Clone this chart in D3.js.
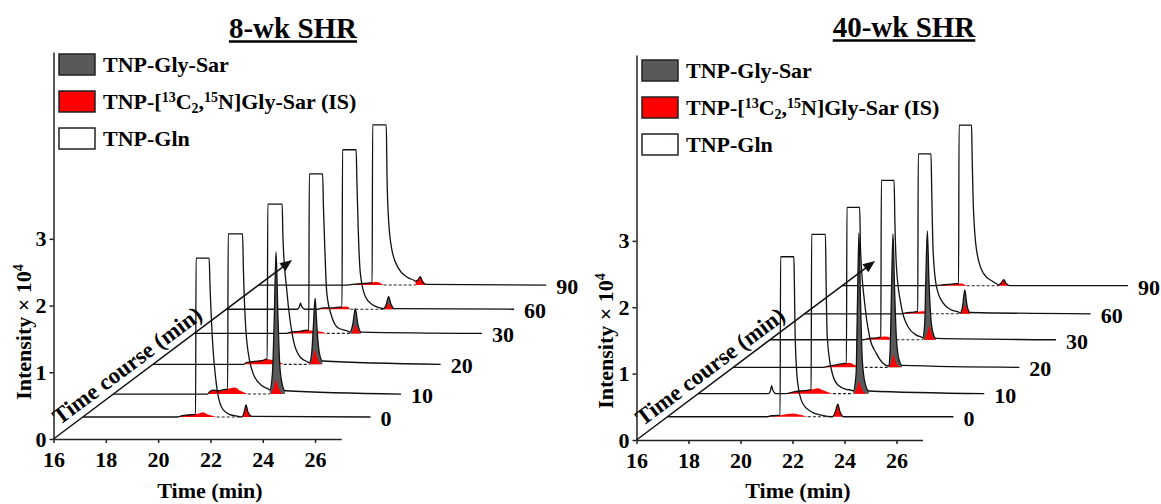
<!DOCTYPE html>
<html lang="en">
<head>
<meta charset="UTF-8">
<title>TNP-Gly-Sar chromatograms, 8-wk and 40-wk SHR</title>
<style>
  body { margin: 0; background: #fff; }
  svg text { font-family: "Liberation Serif", "Times New Roman", serif; font-weight: bold; fill: #000; }
  .trace { fill: none; stroke: #111; stroke-width: 1.3px; }
  .dash { stroke: #222; stroke-width: 1.1px; stroke-dasharray: 3 2; }
  .axis path, .axis line { stroke: #222; stroke-width: 1.5px; }
  .axis text { font-size: 22px; font-family: "Liberation Serif", serif; }
</style>
</head>
<body>
<script src="https://cdn.jsdelivr.net/npm/d3@7"></script>
<script>
// ---- data (time in min, intensity x 10^4) ----
const runLabels = ["0", "10", "20", "30", "60", "90"];
const xTicks = [16, 18, 20, 22, 24, 26];
const yTicks = [0, 1, 2, 3];

// where each run sits along the "time course" axis (fraction of the arrow)
const depth8wk = [0.123, 0.251, 0.417, 0.590, 0.725, 0.860];
const depth40wk = [0.130, 0.259, 0.406, 0.560, 0.705, 0.862];

// 8-wk SHR
const minor8wk = [[], [], [], [], [[18.7, 0], [18.8, 0.05], [18.83, 0.09], [18.88, 0.04], [19.0, 0]], []];
const hump8wk = [
  [[19.6, 0], [19.8, 0.02], [20.0, 0.03], [20.3, 0.04], [20.5, 0.06], [20.6, 0.07], [20.75, 0.04], [20.95, 0.02], [21.12, 0]],
  [[19.59, 0], [19.7, 0.04], [19.82, 0.06], [20.0, 0.05], [20.3, 0.07], [20.5, 0.09], [20.65, 0.1], [20.85, 0.05], [21.03, 0.02], [21.15, 0]],
  [[19.46, 0], [19.6, 0.03], [19.8, 0.04], [20.0, 0.05], [20.2, 0.06], [20.35, 0.08], [20.6, 0.06], [20.85, 0.03], [21.0, 0]],
  [[19.54, 0], [19.7, 0.02], [20.0, 0.03], [20.3, 0.05], [20.5, 0.04], [20.8, 0.03], [21.07, 0]],
  [[19.47, 0], [19.7, 0.02], [20.0, 0.02], [20.3, 0.03], [20.6, 0.04], [20.74, 0]],
  [[19.4, 0], [19.6, 0.01], [19.9, 0.02], [20.2, 0.03], [20.5, 0.045], [20.65, 0.03], [20.78, 0]]
];
const gln8wk = [
  [[20.31, 0.04], [20.33, 2.38], [20.83, 2.38], [20.86, 2.0], [20.95, 1.2], [21.12, 0.45], [21.3, 0.15], [21.6, 0.04], [21.95, 0.01]],
  [[20.37, 0.07], [20.39, 2.4], [20.94, 2.4], [20.97, 1.9], [21.1, 0.8], [21.35, 0.3], [21.7, 0.12], [21.95, 0.07]],
  [[20.37, 0.08], [20.39, 2.4], [20.94, 2.4], [20.97, 1.9], [21.12, 1.1], [21.37, 0.36], [21.63, 0.11], [21.94, 0.03]],
  [[20.38, 0.05], [20.4, 2.39], [20.91, 2.39], [20.94, 1.9], [21.0, 1.2], [21.07, 0.6], [21.26, 0.25], [21.51, 0.08], [21.83, 0.04]],
  [[20.42, 0.03], [20.44, 2.39], [20.96, 2.39], [20.99, 1.9], [21.04, 1.2], [21.12, 0.54], [21.31, 0.19], [21.57, 0.07], [21.88, 0.02]],
  [[20.34, 0.035], [20.36, 2.4], [20.88, 2.4], [20.91, 1.62], [20.97, 0.97], [21.1, 0.52], [21.35, 0.25], [21.67, 0.12], [21.95, 0.07]]
];
const glySar8wk = [
  [],
  [[21.98, 0.06], [22.08, 0.3], [22.15, 1.1], [22.22, 2.13], [22.29, 1.2], [22.36, 0.45], [22.45, 0.16], [22.56, 0.05]],
  [[21.98, 0.02], [22.07, 0.17], [22.13, 0.55], [22.2, 0.99], [22.27, 0.55], [22.35, 0.2], [22.48, 0.05]],
  [[21.96, 0.02], [22.06, 0.13], [22.16, 0.37], [22.25, 0.15], [22.38, 0.02]],
  [[22.0, 0.01], [22.11, 0.07], [22.2, 0.19], [22.29, 0.08], [22.42, 0.01]],
  []
];
const is8wk = [
  [[22.08, 0], [22.17, 0.07], [22.24, 0.18], [22.31, 0.08], [22.47, 0.01]],
  [[22.02, 0], [22.13, 0.09], [22.22, 0.21], [22.31, 0.09], [22.48, 0]],
  [[22.01, 0], [22.11, 0.09], [22.19, 0.21], [22.28, 0.09], [22.45, 0]],
  [[22.0, 0], [22.09, 0.06], [22.16, 0.125], [22.25, 0.06], [22.37, 0]],
  [[22.04, 0], [22.13, 0.045], [22.2, 0.09], [22.28, 0.045], [22.39, 0]],
  [[22.0, 0.06], [22.1, 0.08], [22.18, 0.125], [22.26, 0.06], [22.4, 0.01]]
];
const dash8wk = [[21.12, 22.08], [21.15, 21.98], [21.0, 21.98], [21.07, 21.96], [20.74, 22.0], [20.78, 22.0]];

// 40-wk SHR
const minor40wk = [[], [[18.7, 0], [18.78, 0.05], [18.82, 0.12], [18.87, 0.05], [18.98, 0]], [], [], [], []];
const hump40wk = [
  [[19.85, 0], [20.0, 0.015], [20.3, 0.02], [20.6, 0.04], [20.85, 0.05], [21.1, 0.03], [21.4, 0]],
  [[19.39, 0], [19.6, 0.02], [19.9, 0.04], [20.2, 0.05], [20.45, 0.07], [20.6, 0.08], [20.8, 0.05], [21.0, 0.02], [21.18, 0]],
  [[19.45, 0], [19.7, 0.02], [20.0, 0.04], [20.3, 0.06], [20.47, 0.07], [20.65, 0.04], [20.86, 0]],
  [[19.57, 0], [19.8, 0.02], [20.1, 0.03], [20.3, 0.045], [20.47, 0.05], [20.65, 0.03], [20.86, 0]],
  [[19.66, 0], [19.9, 0.015], [20.2, 0.025], [20.45, 0.035], [20.65, 0.04], [20.85, 0]],
  [[19.5, 0], [19.8, 0.01], [20.1, 0.02], [20.4, 0.03], [20.6, 0.035], [20.79, 0]]
];
const gln40wk = [
  [[20.33, 0.02], [20.35, 2.41], [20.86, 2.41], [20.88, 2.0], [20.91, 1.2], [21.01, 0.5], [21.2, 0.2], [21.53, 0.075], [21.91, 0.025]],
  [[20.34, 0.06], [20.36, 2.4], [20.89, 2.4], [20.92, 1.6], [20.96, 0.86], [21.12, 0.36], [21.37, 0.13], [21.7, 0.065], [21.9, 0.05]],
  [[20.35, 0.06], [20.37, 2.41], [20.86, 2.41], [20.89, 1.8], [21.05, 0.97], [21.24, 0.46], [21.5, 0.21], [21.76, 0.06], [21.95, 0.02]],
  [[20.26, 0.045], [20.28, 2.4], [20.77, 2.4], [20.8, 1.8], [20.86, 1.1], [21.05, 0.5], [21.3, 0.2], [21.63, 0.07], [21.85, 0.035]],
  [[20.35, 0.035], [20.37, 2.41], [20.86, 2.41], [20.89, 1.8], [20.94, 0.96], [21.07, 0.41], [21.33, 0.16], [21.65, 0.057], [21.95, 0.02]],
  [[20.48, 0.03], [20.5, 2.42], [20.98, 2.42], [21.0, 2.0], [21.04, 1.29], [21.17, 0.54], [21.43, 0.19], [21.81, 0.06], [21.98, 0.02]]
];
const glySar40wk = [
  [],
  [[21.96, 0.04], [22.07, 0.3], [22.12, 1.3], [22.18, 2.42], [22.24, 1.4], [22.31, 0.5], [22.42, 0.15], [22.56, 0.04]],
  [[21.97, 0.02], [22.03, 0.25], [22.08, 1.1], [22.14, 2.01], [22.2, 1.2], [22.27, 0.45], [22.37, 0.12], [22.49, 0.03]],
  [[21.87, 0.03], [21.95, 0.25], [21.99, 0.9], [22.05, 1.64], [22.11, 0.9], [22.18, 0.35], [22.27, 0.1], [22.38, 0.02]],
  [[21.98, 0.01], [22.07, 0.1], [22.16, 0.36], [22.24, 0.14], [22.36, 0.02]],
  []
];
const is40wk = [
  [[22.34, 0], [22.46, 0.08], [22.55, 0.19], [22.63, 0.08], [22.78, 0]],
  [[21.99, 0], [22.1, 0.08], [22.19, 0.18], [22.28, 0.08], [22.46, 0]],
  [[21.98, 0], [22.08, 0.08], [22.16, 0.185], [22.25, 0.08], [22.43, 0]],
  [[21.92, 0], [22.04, 0.09], [22.13, 0.2], [22.21, 0.09], [22.36, 0]],
  [[22.0, 0], [22.09, 0.06], [22.17, 0.13], [22.25, 0.06], [22.37, 0]],
  [[22.02, 0.01], [22.12, 0.04], [22.22, 0.09], [22.3, 0.04], [22.45, 0]]
];
const dash40wk = [[21.4, 22.34], [21.18, 21.96], [20.86, 21.97], [20.86, 21.87], [20.85, 21.98], [20.79, 22.02]];

// legend entries: [text, shift] where shift 1 = superscript, -1 = subscript
const legendNames = [
  [["TNP-Gly-Sar", 0]],
  [["TNP-[", 0], ["13", 1], ["C", 0], ["2", -1], [",", 0], ["15", 1], ["N]Gly-Sar (IS)", 0]],
  [["TNP-Gln", 0]]
];
const legendFills = ["#595959", "#ff0000", "#ffffff"];

const GRAY = "#595959";
const RED = "#ff0000";

const svg = d3.select("body").append("svg")
  .attr("width", 1161)
  .attr("height", 504);

const panels = [
  { title: "8-wk SHR", titleX: 293, titleY: 38, left: 53.5, right: 341.2, base: 439, top: 52,
    depth: depth8wk, minor: minor8wk, hump: hump8wk, gln: gln8wk, gs: glySar8wk, is: is8wk, dash: dash8wk,
    legX: 59, legY: 54, yTitleX: 31, yTitleY: 332, xTitleX: 210 },
  { title: "40-wk SHR", titleX: 904, titleY: 37, left: 636.5, right: 922.5, base: 440, top: 55,
    depth: depth40wk, minor: minor40wk, hump: hump40wk, gln: gln40wk, gs: glySar40wk, is: is40wk, dash: dash40wk,
    legX: 642, legY: 60, yTitleX: 613, yTitleY: 341, xTitleX: 798 }
];

// arrow of the time-course axis
const arrowVec = [238.5, -179];

panels.forEach(drawPanel);

function drawPanel(p) {
  const g = svg.append("g");

  const x = d3.scaleLinear().domain([16, 27]).range([p.left, p.right]);
  const y = d3.scaleLinear().domain([0, 5.8]).range([p.base, p.top]);
  const dx = d3.scaleLinear().domain([0, 1]).range([0, arrowVec[0]]);
  const dy = d3.scaleLinear().domain([0, 1]).range([0, arrowVec[1]]);

  const line = d3.line().x(d => x(d[0])).y(d => y(d[1])).curve(d3.curveMonotoneX);
  const area = d3.area().x(d => x(d[0])).y0(y(0)).y1(d => y(d[1])).curve(d3.curveMonotoneX);

  // runs drawn back to front
  for (let i = runLabels.length - 1; i >= 0; i--) {
    const row = g.append("g")
      .attr("transform", `translate(${dx(p.depth[i])},${dy(p.depth[i])})`);

    row.append("path").datum(p.hump[i]).attr("d", area).attr("fill", RED);
    if (p.gs[i].length) {
      row.append("path").datum(p.gs[i]).attr("d", area).attr("fill", GRAY);
    }
    row.append("path").datum(p.is[i]).attr("d", area).attr("fill", RED);

    row.append("line")
      .attr("class", "dash")
      .attr("x1", x(p.dash[i][0])).attr("x2", x(p.dash[i][1]))
      .attr("y1", y(0)).attr("y2", y(0));

    const start = p.gln[i][0][0];
    const peak = p.gs[i].length ? p.gs[i] : p.is[i];
    const pts = [[16, 0]]
      .concat(p.minor[i])
      .concat(p.hump[i].filter(d => d[0] < start - 0.015))
      .concat(p.gln[i])
      .concat(peak)
      .concat([[27, 0]]);
    row.append("path").datum(pts).attr("class", "trace").attr("d", line);

    row.append("text")
      .attr("x", x(27) + 10)
      .attr("y", y(0) + 9)
      .style("font-size", "22px")
      .text(runLabels[i]);
  }

  // axes
  g.append("g")
    .attr("class", "axis")
    .attr("transform", `translate(0,${p.base})`)
    .call(d3.axisBottom(x).tickValues(xTicks).tickSize(4).tickSizeOuter(0).tickPadding(8));

  g.append("g")
    .attr("class", "axis")
    .attr("transform", `translate(${p.left},0)`)
    .call(d3.axisLeft(y).tickValues(yTicks).tickSize(4).tickSizeOuter(0).tickPadding(3).tickFormat(d3.format("d")));

  g.selectAll(".axis text").style("font-weight", "bold");

  // time course arrow
  const len = Math.hypot(arrowVec[0], arrowVec[1]);
  const u = [arrowVec[0] / len, arrowVec[1] / len];
  const n = [u[1], -u[0]];
  const ox = p.left, oy = p.base;
  const tip = [ox + arrowVec[0], oy + arrowVec[1]];
  g.append("line")
    .attr("x1", ox).attr("y1", oy)
    .attr("x2", tip[0] - u[0] * 8).attr("y2", tip[1] - u[1] * 8)
    .attr("stroke", "#111").attr("stroke-width", 1.5);
  g.append("path")
    .attr("d", d3.line()([
      tip,
      [tip[0] - u[0] * 12 + n[0] * 5, tip[1] - u[1] * 12 + n[1] * 5],
      [tip[0] - u[0] * 12 - n[0] * 5, tip[1] - u[1] * 12 - n[1] * 5]
    ]) + "Z")
    .attr("fill", "#111");

  const angle = Math.atan2(arrowVec[1], arrowVec[0]) * 180 / Math.PI;
  const cx = ox + u[0] * 103 + n[0] * 7;
  const cy = oy + u[1] * 103 + n[1] * 7;
  g.append("text")
    .attr("transform", `translate(${cx},${cy}) rotate(${angle})`)
    .attr("text-anchor", "middle")
    .style("font-size", "23px")
    .text("Time course (min)");

  // axis titles
  g.append("text")
    .attr("x", p.xTitleX).attr("y", 498)
    .attr("text-anchor", "middle")
    .style("font-size", "22px")
    .text("Time (min)");

  const yt = g.append("text")
    .attr("transform", `translate(${p.yTitleX},${p.yTitleY}) rotate(-90)`)
    .attr("text-anchor", "middle")
    .style("font-size", "22px");
  yt.append("tspan").text("Intensity \u00d7 10");
  yt.append("tspan").attr("dy", -8).style("font-size", "14px").text("4");

  // title with underline
  const title = g.append("text")
    .attr("x", p.titleX).attr("y", p.titleY)
    .attr("text-anchor", "middle")
    .style("font-size", "29px")
    .text(p.title);
  const tw = title.node().getComputedTextLength();
  g.append("line")
    .attr("x1", p.titleX - tw / 2).attr("x2", p.titleX + tw / 2)
    .attr("y1", p.titleY + 3.5).attr("y2", p.titleY + 3.5)
    .attr("stroke", "#000").attr("stroke-width", 2.4);

  // legend
  legendNames.forEach((parts, k) => {
    const yy = p.legY + k * 37;
    g.append("rect")
      .attr("x", p.legX).attr("y", yy)
      .attr("width", 36).attr("height", 21)
      .attr("fill", legendFills[k])
      .attr("stroke", "#222").attr("stroke-width", 1.5);
    const t = g.append("text")
      .attr("x", p.legX + 44).attr("y", yy + 18)
      .style("font-size", "22px");
    let shift = 0;
    parts.forEach(([s, sh]) => {
      const target = sh === 1 ? -7 : sh === -1 ? 4 : 0;
      t.append("tspan")
        .attr("dy", target - shift)
        .style("font-size", sh ? "14px" : "22px")
        .text(s);
      shift = target;
    });
  });
}
</script>
</body>
</html>
